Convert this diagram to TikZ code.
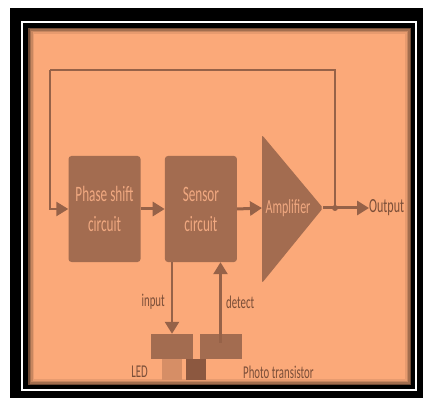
\documentclass[tikz,border=0pt]{standalone}
\usepackage{fontspec}
\setmainfont{Carlito}[FakeStretch=0.6]
\usetikzlibrary{positioning,arrows.meta}
\definecolor{bgorange}{RGB}{251,169,121}
\definecolor{boxbrown}{RGB}{163,108,80}
\definecolor{linebrown}{RGB}{150,98,72}
\definecolor{boxtext}{RGB}{240,168,128}
\definecolor{labelbrown}{RGB}{122,78,56}
\definecolor{ledtan}{RGB}{214,142,102}
\definecolor{ptdark}{RGB}{140,88,64}
\tikzset{
  block/.style={fill=boxbrown, rounded corners=3pt, minimum width=72pt, minimum height=106pt,
    align=center, text=boxtext, font=\fontsize{22}{30}\selectfont},
  flow/.style={linebrown, line width=3pt, -{Triangle[length=12pt,width=14pt]}},
  tag/.style={text=labelbrown, inner sep=1pt, font=\fontsize{18}{20}\selectfont},
  partbox/.style={fill=boxbrown, minimum width=42pt, minimum height=25pt, inner sep=0pt},
  legbox/.style={minimum width=20pt, minimum height=21pt, inner sep=0pt},
}
\begin{document}
\begin{tikzpicture}[x=1pt,y=-1pt]
  \useasboundingbox (0,0) rectangle (423,398);
  % frame
  \fill[black] (10,8) rectangle (423,398);
  \draw[white, line width=2pt] (22,22) rectangle (416,390);
  \fill[bgorange] (28,28) rectangle (411,385);
  \foreach \i/\o in {0.75/0.55,2.25/0.35,3.75/0.2,5.25/0.08}
    \draw[black, opacity=\o, line width=1.5pt] (28+\i,28+\i) rectangle (411-\i,385-\i);

  % blocks
  \node[block] (ps) at (104.5,209) {Phase shift\\circuit};
  \node[block, right=24pt of ps] (sc) {Sensor\\circuit};
  \fill[boxbrown, rounded corners=2pt] (262,135) -- (323,208) -- (262,283) -- cycle;
  \coordinate (ampin) at (262,208);
  \coordinate (ampout) at (323,208);
  \coordinate (tap) at (335,208);
  \coordinate (fbcorner) at (50,70);
  \node[text=boxtext, font=\fontsize{20}{24}\selectfont] (amp) at (288,208) {Amplifier};
  \node[tag, anchor=west, inner sep=0pt, font=\fontsize{20}{24}\selectfont] (out) at (369,208) {Output};

  % signal path
  \draw[flow] (ps.east) -- (sc.west);
  \draw[flow] (sc.east) -- (ampin);
  \draw[flow] (ampout) -- (out.west);
  \draw[linebrown, line width=2pt] (tap) |- (fbcorner);
  \draw[flow, line width=2.5pt] (fbcorner) |- (ps.west);
  \fill[linebrown] (tap) circle (3pt);

  % sensor parts
  \node[partbox] (led) at (172,346.5) {};
  \node[partbox] (pt) at (220.5,346.5) {};
  \node[legbox, fill=ledtan, below=0pt of led] (ledleg) {};
  \node[legbox, fill=ptdark, anchor=north] (ptleg) at (196,359) {};
  \draw[flow, line width=2.5pt] (led.north |- sc.south) -- (led.north);
  \draw[flow, line width=2.5pt] ([yshift=-9pt]pt.north) -- (pt.north |- sc.south);
  \node[tag, anchor=east] (inlbl) at (166,302) {input};
  \node[tag, anchor=west] (detlbl) at (225,302) {detect};
  \node[tag, anchor=east] (ledlbl) at (149,372) {LED};
  \node[tag, anchor=west] (ptlbl) at (242,372) {Photo transistor};
\end{tikzpicture}
\end{document}
